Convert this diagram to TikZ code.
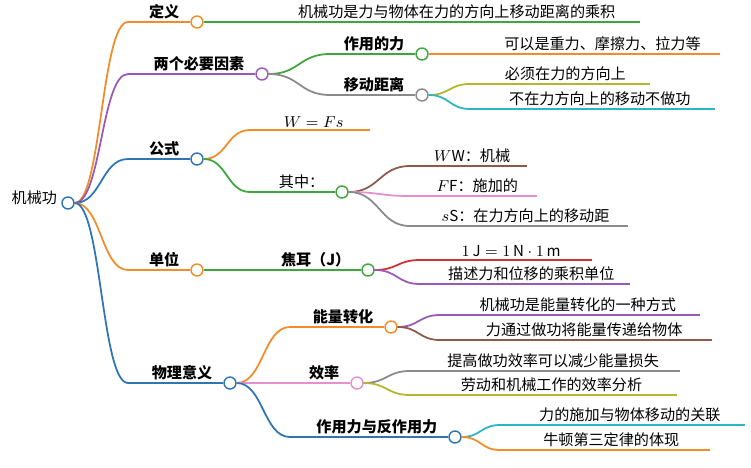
\documentclass[tikz,border=0pt]{standalone}
\usepackage{fontspec}
\setmainfont{Noto Sans CJK SC}
\usetikzlibrary{calc}
\definecolor{corange}{HTML}{F28C28}
\definecolor{cpurple}{HTML}{9B59B6}
\definecolor{cblue}{HTML}{2E75B6}
\definecolor{cgreen}{HTML}{3DA63D}
\definecolor{cgray}{HTML}{8A8A8A}
\definecolor{colive}{HTML}{B5B52E}
\definecolor{ccyan}{HTML}{2BB5C8}
\definecolor{cbrown}{HTML}{8B5A4A}
\definecolor{cpink}{HTML}{E58FD0}
\definecolor{cred}{HTML}{D03030}
\tikzset{
dot/.style={circle, draw, fill=white, inner sep=0pt, minimum size=2.4mm, line width=.8pt}, % end circle of a topic
lbl/.style={anchor=south, inner sep=1.5pt, font=\fontsize{8.6}{10}\selectfont},
tlbl/.style={lbl, anchor=south east, font=\fontsize{8.6}{10}\selectfont\bfseries},
}
% curve from #1 to #2
\newcommand\link[3]{
  \coordinate (mid) at ($(#1)!.5!(#2)$);
  \draw[#3, line width=1pt] (#1) .. controls (mid |- #1) and (mid |- #2) .. (#2);
}
% topic: parent, name, x start, x circle, y, colour, text
\newcommand\topic[7]{
  \coordinate (#2s) at (#3,#5);
  \node[dot, draw=#6] (#2) at (#4,#5) {};
  \node[tlbl] at ($(#2.west)+(-8,0)$) {#7};
  \link{#1.east}{#2s}{#6}
  \draw[#6, line width=1pt] (#2s) -- (#2.west);
}
% leaf: parent, name, x start, x end, y, colour, text
\newcommand\leaf[7]{
  \coordinate (#2s) at (#3,#5);
  \coordinate (#2e) at (#4,#5);
  \node[lbl] at ($(#2s)!.53!(#2e)$) {#7};
  \link{#1.east}{#2s}{#6}
  \draw[#6, line width=1pt] (#2s) -- (#2e);
}
\begin{document}
\begin{tikzpicture}[x=0.02cm, y=-0.02cm]
  \useasboundingbox (0,0) rectangle (751,467);
  \node[dot, draw=cblue] (root) at (68,203) {};
  \node[lbl, anchor=south east] at (60,208) {机械功};

  \topic{root}{def}{128}{197}{22}{corange}{定义}
  \leaf{def}{defa}{250}{640}{22}{cgreen}{机械功是力与物体在力的方向上移动距离的乘积}

  \topic{root}{two}{128}{262}{74}{cpurple}{两个必要因素}
  \topic{two}{force}{330}{422}{54}{cgreen}{作用的力}
  \leaf{force}{forcea}{470}{720}{54}{corange}{可以是重力、摩擦力、拉力等}
  \topic{two}{dist}{330}{422}{95}{cgray}{移动距离}
  \leaf{dist}{dista}{470}{650}{84}{colive}{必须在力的方向上}
  \leaf{dist}{distb}{470}{715}{109}{ccyan}{不在力方向上的移动不做功}

  \topic{root}{form}{128}{197}{159}{cblue}{公式}
  \leaf{form}{forma}{250}{370}{130}{corange}{$W=Fs$}
  \topic{form}{where}{250}{342}{192}{cgreen}{\mdseries 其中：}
  \leaf{where}{wa}{410}{527}{166}{cbrown}{$W$W：机械}
  \leaf{where}{wb}{410}{537}{196}{cpink}{$F$F：施加的}
  \leaf{where}{wc}{410}{628}{226}{cgray}{$s$S：在力方向上的移动距}

  \topic{root}{unit}{128}{197}{270}{corange}{单位}
  \topic{unit}{joule}{250}{368}{270}{cgreen}{焦耳（J）}
  \leaf{joule}{ja}{420}{592}{260}{cred}{$1\,\mathrm{J}=1\,\mathrm{N}\cdot1\,\mathrm{m}$}
  \leaf{joule}{jb}{420}{630}{284}{cpurple}{描述力和位移的乘积单位}

  \topic{root}{phys}{128}{230}{383}{cblue}{物理意义}
  \topic{phys}{energy}{290}{391}{327}{corange}{能量转化}
  \leaf{energy}{ea}{440}{700}{315}{cpurple}{机械功是能量转化的一种方式}
  \leaf{energy}{eb}{440}{712}{340}{cbrown}{力通过做功将能量传递给物体}
  \topic{phys}{eff}{290}{357}{383}{cpink}{效率}
  \leaf{eff}{fa}{410}{680}{371}{cgray}{提高做功效率可以减少能量损失}
  \leaf{eff}{fb}{410}{677}{395}{colive}{劳动和机械工作的效率分析}
  \topic{phys}{react}{290}{455}{437}{cblue}{作用力与反作用力}
  \leaf{react}{ra}{500}{745}{425}{ccyan}{力的施加与物体移动的关联}
  \leaf{react}{rb}{500}{710}{450}{corange}{牛顿第三定律的体现}
\end{tikzpicture}
\end{document}
